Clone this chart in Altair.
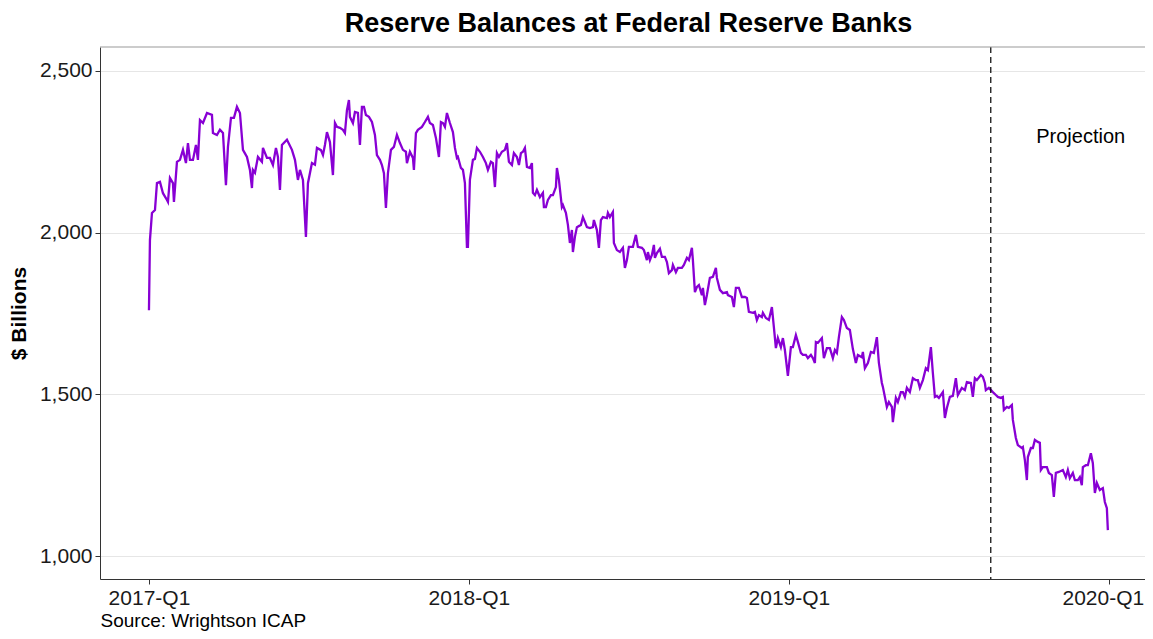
import altair as alt
import pandas as pd

# time in decimal years, values in $ billions
t = [2017.0000, 2017.0031, 2017.0094, 2017.0188, 2017.0250, 2017.0344, 2017.0438, 2017.0563, 2017.0594, 2017.0656,
     2017.0750, 2017.0781, 2017.0875, 2017.0969, 2017.1063, 2017.1156, 2017.1219, 2017.1281, 2017.1375, 2017.1469,
     2017.1531, 2017.1594, 2017.1688, 2017.1813, 2017.1969, 2017.2000, 2017.2125, 2017.2219, 2017.2313, 2017.2406,
     2017.2469, 2017.2563, 2017.2656, 2017.2750, 2017.2844, 2017.2938, 2017.3063, 2017.3156, 2017.3219, 2017.3250,
     2017.3313, 2017.3406, 2017.3531, 2017.3563, 2017.3688, 2017.3781, 2017.3875, 2017.3969, 2017.4031, 2017.4094,
     2017.4156, 2017.4313, 2017.4469, 2017.4563, 2017.4656, 2017.4719, 2017.4813, 2017.4906, 2017.4969, 2017.5094,
     2017.5188, 2017.5250, 2017.5375, 2017.5438, 2017.5500, 2017.5563, 2017.5656, 2017.5750, 2017.5813, 2017.5875,
     2017.5969, 2017.6063, 2017.6125, 2017.6188, 2017.6250, 2017.6281, 2017.6375, 2017.6438, 2017.6531, 2017.6594,
     2017.6656, 2017.6719, 2017.6781, 2017.6875, 2017.6969, 2017.7063, 2017.7125, 2017.7219, 2017.7281, 2017.7344,
     2017.7406, 2017.7469, 2017.7563, 2017.7656, 2017.7750, 2017.7844, 2017.7938, 2017.8031, 2017.8063, 2017.8156,
     2017.8250, 2017.8281, 2017.8344, 2017.8406, 2017.8531, 2017.8625, 2017.8719, 2017.8781, 2017.8875, 2017.8969,
     2017.9063, 2017.9125, 2017.9188, 2017.9250, 2017.9313, 2017.9406, 2017.9500, 2017.9563, 2017.9625, 2017.9656,
     2017.9750, 2017.9813, 2017.9875, 2017.9938, 2017.9969, 2018.0031, 2018.0125, 2018.0188, 2018.0250, 2018.0344,
     2018.0438, 2018.0531, 2018.0594, 2018.0688, 2018.0750, 2018.0813, 2018.0875, 2018.0938, 2018.1031, 2018.1125,
     2018.1188, 2018.1250, 2018.1344, 2018.1406, 2018.1500, 2018.1563, 2018.1625, 2018.1688, 2018.1750, 2018.1813,
     2018.1906, 2018.1969, 2018.2000, 2018.2063, 2018.2125, 2018.2219, 2018.2313, 2018.2344, 2018.2406, 2018.2469,
     2018.2563, 2018.2625, 2018.2719, 2018.2750, 2018.2813, 2018.2906, 2018.2938, 2018.3031, 2018.3094, 2018.3156,
     2018.3219, 2018.3250, 2018.3313, 2018.3375, 2018.3500, 2018.3563, 2018.3625, 2018.3688, 2018.3781, 2018.3875,
     2018.3906, 2018.4000, 2018.4063, 2018.4125, 2018.4188, 2018.4313, 2018.4344, 2018.4406, 2018.4500, 2018.4531,
     2018.4625, 2018.4719, 2018.4813, 2018.4875, 2018.4938, 2018.5000, 2018.5125, 2018.5219, 2018.5281, 2018.5406,
     2018.5469, 2018.5563, 2018.5594, 2018.5656, 2018.5719, 2018.5781, 2018.5813, 2018.5875, 2018.5969, 2018.6031,
     2018.6125, 2018.6188, 2018.6250, 2018.6344, 2018.6375, 2018.6469, 2018.6531, 2018.6656, 2018.6719, 2018.6813,
     2018.6875, 2018.6969, 2018.7000, 2018.7063, 2018.7125, 2018.7188, 2018.7281, 2018.7313, 2018.7375, 2018.7438,
     2018.7531, 2018.7625, 2018.7719, 2018.7750, 2018.7844, 2018.7938, 2018.8063, 2018.8094, 2018.8219, 2018.8281,
     2018.8344, 2018.8438, 2018.8531, 2018.8625, 2018.8688, 2018.8750, 2018.8875, 2018.8938, 2018.9000, 2018.9063,
     2018.9156, 2018.9188, 2018.9281, 2018.9375, 2018.9469, 2018.9531, 2018.9594, 2018.9656, 2018.9750, 2018.9813,
     2018.9875, 2018.9969, 2019.0063, 2019.0125, 2019.0219, 2019.0281, 2019.0375, 2019.0438, 2019.0531, 2019.0594,
     2019.0688, 2019.0750, 2019.0813, 2019.0844, 2019.0906, 2019.1031, 2019.1094, 2019.1188, 2019.1281, 2019.1375,
     2019.1438, 2019.1500, 2019.1563, 2019.1656, 2019.1719, 2019.1813, 2019.1906, 2019.2000, 2019.2094, 2019.2156,
     2019.2281, 2019.2313, 2019.2375, 2019.2469, 2019.2563, 2019.2656, 2019.2750, 2019.2813, 2019.2906, 2019.2938,
     2019.3063, 2019.3125, 2019.3219, 2019.3250, 2019.3344, 2019.3406, 2019.3500, 2019.3563, 2019.3625, 2019.3688,
     2019.3781, 2019.3875, 2019.3969, 2019.4031, 2019.4094, 2019.4188, 2019.4281, 2019.4344, 2019.4438, 2019.4500,
     2019.4563, 2019.4625, 2019.4688, 2019.4813, 2019.4875, 2019.4938, 2019.5031, 2019.5125, 2019.5219, 2019.5281,
     2019.5406, 2019.5500, 2019.5563, 2019.5688, 2019.5750, 2019.5813, 2019.5875, 2019.6000, 2019.6063, 2019.6125,
     2019.6156, 2019.6250, 2019.6375, 2019.6469, 2019.6531, 2019.6625, 2019.6688, 2019.6719, 2019.6813, 2019.6875,
     2019.6969, 2019.7000, 2019.7094, 2019.7156, 2019.7281, 2019.7313, 2019.7375, 2019.7438, 2019.7469, 2019.7563,
     2019.7625, 2019.7688, 2019.7781, 2019.7844, 2019.7875, 2019.7938, 2019.8063, 2019.8125, 2019.8219, 2019.8281,
     2019.8344, 2019.8438, 2019.8563, 2019.8656, 2019.8719, 2019.8781, 2019.8875, 2019.8938, 2019.9031, 2019.9094,
     2019.9156, 2019.9188, 2019.9281, 2019.9344, 2019.9438, 2019.9500, 2019.9563, 2019.9625, 2019.9719, 2019.9813,
     2019.9875, 2019.9938, 2019.9969]

reserves = [1760, 1977, 2061, 2070, 2153, 2157, 2122, 2101, 2095, 2169,
            2153, 2095, 2219, 2225, 2256, 2215, 2277, 2225, 2225, 2271,
            2225, 2348, 2339, 2370, 2364, 2308, 2302, 2318, 2308, 2147,
            2265, 2355, 2355, 2389, 2370, 2256, 2234, 2194, 2138, 2194,
            2185, 2234, 2219, 2262, 2231, 2231, 2209, 2262, 2234, 2132,
            2271, 2287, 2256, 2225, 2163, 2194, 2163, 1987, 2153, 2215,
            2210, 2262, 2255, 2240, 2271, 2311, 2280, 2178, 2339, 2327,
            2324, 2318, 2308, 2379, 2410, 2358, 2339, 2373, 2370, 2271,
            2389, 2389, 2364, 2358, 2342, 2302, 2240, 2225, 2209, 2184,
            2076, 2184, 2256, 2265, 2302, 2277, 2256, 2250, 2215, 2250,
            2231, 2194, 2308, 2318, 2327, 2342, 2358, 2339, 2333, 2293,
            2234, 2342, 2339, 2327, 2370, 2339, 2311, 2262, 2231, 2234,
            2200, 2194, 2153, 1956, 1956, 2163, 2225, 2228, 2262, 2250,
            2234, 2215, 2194, 2219, 2215, 2141, 2246, 2234, 2250, 2256,
            2277, 2219, 2209, 2246, 2234, 2209, 2246, 2250, 2262, 2203,
            2200, 2215, 2123, 2116, 2132, 2110, 2123, 2079, 2079, 2101,
            2116, 2116, 2141, 2200, 2163, 2079, 2085, 2061, 2024, 1968,
            2008, 1940, 1987, 2017, 2024, 2048, 2033, 2017, 2014, 2017,
            2039, 2008, 1953, 2039, 2048, 2045, 2061, 2048, 2064, 1968,
            1946, 1940, 1953, 1891, 1915, 1956, 1956, 1993, 1956, 1953,
            1946, 1915, 1940, 1915, 1931, 1962, 1922, 1937, 1950, 1925,
            1925, 1909, 1875, 1884, 1900, 1878, 1891, 1891, 1900, 1922,
            1915, 1953, 1915, 1816, 1832, 1838, 1807, 1829, 1776, 1807,
            1860, 1863, 1891, 1860, 1823, 1813, 1816, 1807, 1801, 1770,
            1829, 1829, 1801, 1801, 1798, 1755, 1752, 1755, 1730, 1745,
            1739, 1752, 1736, 1730, 1770, 1708, 1643, 1674, 1646, 1674,
            1637, 1557, 1646, 1646, 1683, 1662, 1628, 1622, 1622, 1612,
            1622, 1612, 1597, 1662, 1659, 1674, 1612, 1643, 1643, 1612,
            1637, 1628, 1677, 1739, 1730, 1705, 1699, 1640, 1597, 1622,
            1615, 1631, 1581, 1597, 1631, 1628, 1677, 1597, 1535, 1523,
            1461, 1476, 1461, 1414, 1489, 1476, 1507, 1507, 1492, 1520,
            1507, 1550, 1544, 1544, 1520, 1544, 1581, 1575, 1646, 1566,
            1492, 1495, 1489, 1507, 1427, 1458, 1492, 1495, 1550, 1498,
            1520, 1513, 1538, 1535, 1492, 1550, 1544, 1560, 1554, 1535,
            1513, 1520, 1507, 1498, 1492, 1489, 1492, 1452, 1461, 1458,
            1467, 1421, 1365, 1343, 1334, 1337, 1297, 1235, 1306, 1334,
            1334, 1359, 1353, 1350, 1266, 1275, 1275, 1257, 1250, 1183,
            1257, 1260, 1266, 1244, 1266, 1241, 1257, 1235, 1235, 1244,
            1219, 1275, 1281, 1281, 1318, 1287, 1195, 1226, 1204, 1210,
            1167, 1148, 1080]

x_ticks = [2017, 2018, 2019, 2020]
y_ticks = [1000, 1500, 2000, 2500]
projection_start = [2019.631]
label_t = [2019.912]
label_v = [2296]
label_text = ["Projection"]

df = pd.DataFrame({"t": t, "reserves": reserves})
rule_df = pd.DataFrame({"t": projection_start})
label_df = pd.DataFrame({"t": label_t, "v": label_v, "label": label_text})

W, H = 1045, 532
FONT = "Liberation Sans"

x_scale = alt.Scale(domain=[2016.847, 2020.113], nice=False, zero=False)
y_scale = alt.Scale(domain=[929, 2574], nice=False, zero=False)

x_axis = alt.Axis(
    values=x_ticks,
    labelExpr="format(datum.value, 'd') + '-Q1'",
    labelOffset={"condition": {"test": "datum.value == 2020", "value": -6}, "value": 0},
    title="Source: Wrightson ICAP",
    titleAnchor="start",
    titleAlign="left",
    titleX=0,
    titleY=47,
    titleBaseline="alphabetic",
    titleFontWeight="normal",
    titleFontSize=19,
    titleColor="#000000",
    grid=False,
    labelFontSize=21,
    labelColor="#1a1a1a",
    labelPadding=3,
    tickSize=5,
    tickColor="#333333",
    domainColor="#333333",
)

y_axis = alt.Axis(
    values=y_ticks,
    format=",d",
    title="$ Billions",
    titleFontSize=21,
    titleFontWeight="bold",
    titleColor="#000000",
    titlePadding=10,
    grid=True,
    gridColor="#e6e6e6",
    gridWidth=1,
    labelFontSize=21,
    labelColor="#1a1a1a",
    labelPadding=3,
    tickSize=5,
    tickColor="#333333",
    domainColor="#333333",
)

line = alt.Chart(df).mark_line(color="#8800d4", strokeWidth=2.3, interpolate="linear").encode(
    x=alt.X("t:Q", scale=x_scale, axis=x_axis),
    y=alt.Y("reserves:Q", scale=y_scale, axis=y_axis),
)

vrule = alt.Chart(rule_df).mark_rule(color="#000000", strokeWidth=1.2, strokeDash=[6, 4]).encode(
    x=alt.X("t:Q", scale=x_scale),
)

label = alt.Chart(label_df).mark_text(fontSize=20, font=FONT, color="#000000", align="center", baseline="middle").encode(
    x=alt.X("t:Q", scale=x_scale),
    y=alt.Y("v:Q", scale=y_scale),
    text="label:N",
)

top_border = alt.Chart(pd.DataFrame({"a": [0]})).mark_rule(color="#999999", strokeWidth=1).encode(
    x=alt.value(0), x2=alt.value(W), y=alt.value(0)
)

chart = alt.layer(line, vrule, label, top_border).properties(
    width=W,
    height=H,
    title=alt.TitleParams(
        "Reserve Balances at Federal Reserve Banks",
        fontSize=27,
        fontWeight="bold",
        font=FONT,
        color="#000000",
        anchor="middle",
        offset=8,
        dx=6,
    ),
    autosize=alt.AutoSizeParams(type="none"),
    padding={"left": 92, "top": 39, "right": 0, "bottom": 52},
).configure(font=FONT).configure_view(stroke=None).configure_axis(labelFont=FONT, titleFont=FONT)

chart.save("out.html", embed_options={"renderer": "svg", "actions": False})
